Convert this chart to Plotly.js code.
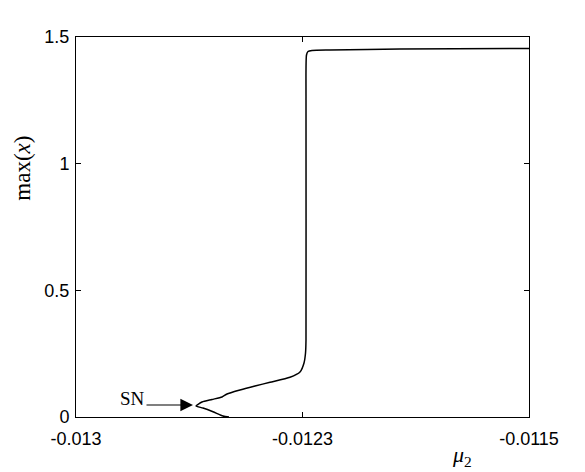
<!DOCTYPE html>
<html>
<head>
<meta charset="utf-8">
<script src="https://cdn.plot.ly/plotly-3.0.1.min.js"></script>
<style>html,body{margin:0;padding:0;background:#fff;}#chart{width:585px;height:472px;}</style>
</head>
<body>
<div id="chart"></div>
<script>
// Branch of max(x) versus mu2
const mu2 = [-0.0124934, -0.0125132, -0.0125464, -0.0125795, -0.0126026, -0.0125828, -0.0125497, -0.0125166, -0.0125,
  -0.012457, -0.0124073, -0.0123576, -0.0122914, -0.0122583, -0.012245, -0.01224, -0.0122384, -0.0122384,
  -0.0122368, -0.0122318, -0.0122185, -0.0121589, -0.0119272, -0.0115];
const maxX = [0, 0.0039, 0.0209, 0.0355, 0.0434, 0.0592, 0.0691, 0.0789, 0.0908,
  0.1066, 0.1224, 0.137, 0.1567, 0.1776, 0.2132, 0.2526, 0.304, 1.2513,
  1.429, 1.4428, 1.4467, 1.4487, 1.4526, 1.4546];
const xTickVals = [-0.013, -0.01225, -0.0115];
const xTickText = ['-0.013', '-0.0123', '-0.0115'];
const yTickVals = [0, 0.5, 1, 1.5];
const yTickText = ['0', '0.5', '1', '1.5'];
const snPoint = {x: -0.0126126, y: 0.0474};
const snTail = {x: -0.0127715, y: 0.0474};

const trace = {
  x: mu2, y: maxX, type: 'scatter', mode: 'lines',
  line: {color: '#000', width: 1.5, shape: 'spline', smoothing: 0.6},
  hoverinfo: 'skip'
};
const axisCommon = {
  showgrid: false, zeroline: false, showline: true, linecolor: '#000', linewidth: 1,
  mirror: 'allticks', ticks: 'inside', ticklen: 5, tickwidth: 1, tickcolor: '#000',
  tickfont: {family: 'Liberation Sans, Arial, sans-serif', size: 18, color: '#000'}
};
const serif = 'Liberation Serif, Times New Roman, serif';
const layout = {
  width: 585, height: 472,
  margin: {l: 76, r: 56, t: 37, b: 55},
  paper_bgcolor: '#fff', plot_bgcolor: '#fff',
  showlegend: false,
  xaxis: Object.assign({}, axisCommon, {range: [-0.013, -0.0115], tickvals: xTickVals, ticktext: xTickText, ticklabelstandoff: 5}),
  yaxis: Object.assign({}, axisCommon, {range: [0, 1.5], tickvals: yTickVals, ticktext: yTickText, ticklabelstandoff: 2}),
  annotations: [
    {x: snPoint.x, y: snPoint.y, ax: snTail.x, ay: snTail.y, axref: 'x', ayref: 'y', xref: 'x', yref: 'y',
     showarrow: true, arrowhead: 2, arrowsize: 2.1, arrowwidth: 1.2, arrowcolor: '#000', text: ''},
    {x: snTail.x, y: snTail.y, xref: 'x', yref: 'y', xanchor: 'right', yanchor: 'bottom', yshift: -6, xshift: 2,
     showarrow: false, text: 'SN', font: {family: serif, size: 19, color: '#000'}},
    {xref: 'paper', yref: 'paper', x: -0.118, y: 0.655, xanchor: 'center', yanchor: 'middle', textangle: -90, showarrow: false,
     text: 'max(<i>x</i>)', font: {family: serif, size: 23, color: '#000'}},
    {xref: 'paper', yref: 'paper', x: 0.852, y: -0.103, xanchor: 'center', yanchor: 'middle', showarrow: false,
     text: '<i>μ</i><sub>2</sub>', font: {family: serif, size: 22, color: '#000'}}
  ]
};
Plotly.newPlot('chart', [trace], layout, {displayModeBar: false, staticPlot: true});
</script>
</body>
</html>
